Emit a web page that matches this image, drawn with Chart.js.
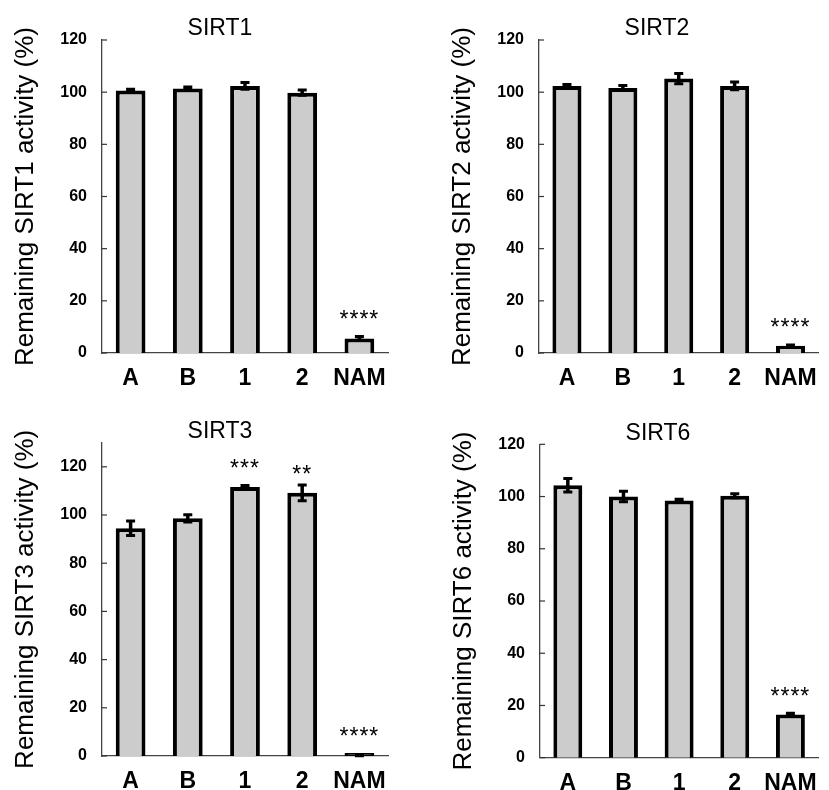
<!DOCTYPE html>
<html lang="en">
<head>
  <meta charset="UTF-8">
  <title>Remaining sirtuin activity</title>
  <script src="https://cdn.jsdelivr.net/npm/chart.js"></script>
  <style>
    body { margin: 0; background: #fff; overflow: hidden; }
    canvas { position: absolute; }
  </style>
</head>
<body>
  <canvas id="c1" width="415" height="400" style="left:0;top:0"></canvas>
  <canvas id="c2" width="392" height="400" style="left:437px;top:0"></canvas>
  <canvas id="c3" width="415" height="390" style="left:0;top:400px"></canvas>
  <canvas id="c4" width="391" height="390" style="left:438px;top:400px"></canvas>

  <script>
    const categories = ['A', 'B', '1', '2', 'NAM'];
    const yTicks = [0, 20, 40, 60, 80, 100, 120];

    const sirt1Values = [100.6, 101.4, 102.4, 99.8, 5.6];
    const sirt1Errors = [0.5, 0.6, 1.3, 1.0, 0.7];
    const sirt1Stars  = ['', '', '', '', '****'];

    const sirt2Values = [102.4, 101.6, 105.2, 102.4, 2.8];
    const sirt2Errors = [0.5, 1.0, 2.0, 1.5, 0.3];
    const sirt2Stars  = ['', '', '', '', '****'];

    const sirt3Values = [94.5, 98.6, 111.6, 109.2, 0.3];
    const sirt3Errors = [3.0, 1.5, 0.6, 3.3, 0.2];
    const sirt3Stars  = ['', '', '***', '**', '****'];

    const sirt6Values = [104.3, 100.0, 98.5, 100.3, 16.5];
    const sirt6Errors = [2.6, 2.0, 0.5, 0.8, 0.5];
    const sirt6Stars  = ['', '', '', '', '****'];

    const FONT = '"Liberation Sans", Arial, sans-serif';

    // error bars, significance stars, inward ticks and the panel title
    const extras = {
      id: 'extras',
      afterDatasetsDraw(chart, args, opts) {
        const ctx = chart.ctx;
        const y = chart.scales.y;
        const area = chart.chartArea;
        const meta = chart.getDatasetMeta(0);
        ctx.save();
        ctx.strokeStyle = '#000';
        ctx.fillStyle = '#000';
        meta.data.forEach(function(bar, i) {
          const v = opts.values[i], e = opts.errors[i];
          const top = y.getPixelForValue(v + e);
          const bot = y.getPixelForValue(v - e);
          ctx.lineWidth = 3.5;
          ctx.beginPath();
          ctx.moveTo(bar.x, top);
          ctx.lineTo(bar.x, bot);
          ctx.stroke();
          ctx.lineWidth = 3;
          ctx.beginPath();
          ctx.moveTo(bar.x - 4.5, top); ctx.lineTo(bar.x + 4.5, top);
          ctx.moveTo(bar.x - 4.5, bot); ctx.lineTo(bar.x + 4.5, bot);
          ctx.stroke();
          if (opts.stars[i]) {
            ctx.font = '23px ' + FONT;
            ctx.letterSpacing = '1px';
            ctx.textAlign = 'center';
            ctx.textBaseline = 'alphabetic';
            ctx.fillText(opts.stars[i], bar.x, y.getPixelForValue(v) - 11);
            ctx.letterSpacing = '0px';
          }
        });
        // ticks point into the plot
        ctx.strokeStyle = '#333';
        ctx.lineWidth = 1.2;
        y.ticks.forEach(function(t) {
          const py = y.getPixelForValue(t.value);
          ctx.beginPath();
          ctx.moveTo(area.left, py);
          ctx.lineTo(area.left + 5, py);
          ctx.stroke();
        });
        ctx.font = '23px ' + FONT;
        ctx.textAlign = 'center';
        ctx.textBaseline = 'middle';
        ctx.fillText(opts.title, area.left + 118, area.top - 11);
        ctx.restore();
      }
    };

    function makePanel(id, name, values, errors, stars, yMax, pad, xHeight) {
      new Chart(document.getElementById(id), {
        type: 'bar',
        data: {
          labels: categories,
          datasets: [{
            data: values,
            backgroundColor: function(c) { return c.raw < 1 ? '#000' : '#cccccc'; },
            borderColor: '#000',
            borderWidth: 4,
            minBarLength: 3,
            categoryPercentage: 1,
            barPercentage: 0.52
          }]
        },
        options: {
          responsive: false,
          animation: false,
          layout: { padding: { left: 0, top: pad.top, right: pad.right, bottom: 0 } },
          plugins: {
            legend: { display: false },
            tooltip: { enabled: false },
            extras: { title: name, values: values, errors: errors, stars: stars }
          },
          scales: {
            x: {
              grid: { display: false, drawTicks: false },
              border: { display: true, color: '#444', width: 1.3 },
              ticks: {
                color: '#000', padding: 12, autoSkip: false, maxRotation: 0, minRotation: 0,
                font: { family: FONT, size: 23, weight: 'bold' }
              },
              afterFit: function(s) { s.height = xHeight; }
            },
            y: {
              min: 0,
              max: yMax,
              grid: { display: false, drawTicks: false },
              border: { display: true, color: '#444', width: 1.3 },
              afterBuildTicks: function(s) { s.ticks = yTicks.map(function(v) { return { value: v }; }); },
              ticks: { color: '#000', padding: 15, font: { family: FONT, size: 16, weight: 'bold' } },
              title: {
                display: true,
                text: 'Remaining ' + name + ' activity (%)',
                color: '#000',
                font: { family: FONT, size: 26 },
                padding: { top: 10, bottom: 0 }
              },
              afterFit: function(s) { s.width = 102; }
            }
          }
        },
        plugins: [extras]
      });
    }

    makePanel('c1', 'SIRT1', sirt1Values, sirt1Errors, sirt1Stars, 120, { top: 40, right: 27 }, 47);
    makePanel('c2', 'SIRT2', sirt2Values, sirt2Errors, sirt2Stars, 120, { top: 40, right: 3 }, 47);
    makePanel('c3', 'SIRT3', sirt3Values, sirt3Errors, sirt3Stars, 130, { top: 42.7, right: 27 }, 34);
    makePanel('c4', 'SIRT6', sirt6Values, sirt6Errors, sirt6Stars, 120, { top: 44.3, right: 4 }, 32.3);
  </script>
</body>
</html>
